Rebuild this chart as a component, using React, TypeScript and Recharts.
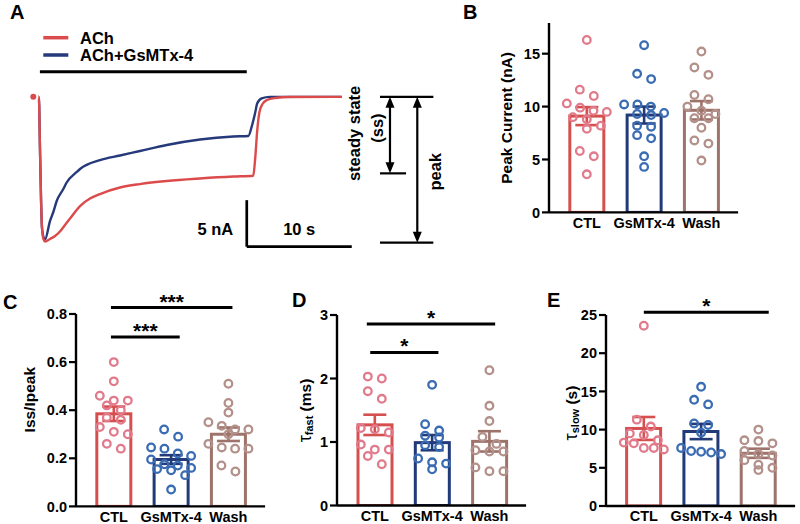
import React from 'react';
import {
  ComposedChart, LineChart, Line, Bar, Scatter, ErrorBar,
  XAxis, YAxis, ReferenceLine,
} from 'recharts';

const FONT = '"Liberation Sans", Arial, Helvetica, sans-serif';

// ---------- shared categories / colours ----------
const groups = ['CTL', 'GsMTx-4', 'Wash'];
const barColors = ['#d64f4f', '#233a78', '#9e736b'];
const dotColors = ['#e17b8c', '#3a6cb4', '#b3918a'];
const traceRed = '#dc4b4b';
const traceBlue = '#26397a';

// ---------- Panel A: current traces (time s, current nA) ----------
const achTime = [-0.03, 0.5, 0.61, 0.71, 0.8, 0.94, 1.09, 1.56, 2.04, 2.51, 2.99, 3.47, 4.42, 5.37, 6.32, 8.23, 10.13, 12.68, 15.85, 19.02, 20.92, 21.09, 21.3, 21.51, 21.8, 22.23, 22.99, 24.42, 29.34];
const achCurrent = [0, 0, -5.7, -11.08, -14.09, -15.28, -15.54, -15.27, -14.95, -14.47, -13.77, -13.07, -11.73, -10.92, -10.44, -9.74, -9.37, -9.04, -8.77, -8.56, -8.47, -6.79, -3.57, -1.63, -0.77, -0.34, -0.13, -0.02, 0];
const gsmTime = [-0.03, 0.5, 0.61, 0.71, 0.8, 0.94, 1.09, 1.56, 1.88, 2.2, 2.83, 3.15, 4.11, 4.42, 6.32, 8.23, 10.13, 12.68, 15.85, 19.02, 20.45, 20.77, 21.09, 21.3, 21.72, 22.51, 29.34];
const gsmCurrent = [0, 0, -5.7, -11.08, -14.09, -15.06, -15.31, -13.34, -12.37, -11.19, -9.9, -9.2, -8.07, -7.75, -6.79, -6.3, -5.82, -5.17, -4.58, -4.26, -4.2, -3.21, -1.77, -0.7, -0.16, 0, 0];
const achOn = 0.6;
const achOff = 20.3;
const ssLevel = -8.22;
const peakLevel = -15.67;

// ---------- Panel B: peak current (nA) ----------
const peakCTL = [16.3, 11.6, 11.0, 10.3, 9.9, 9.6, 9.5, 9.0, 8.8, 8.2, 7.9, 5.8, 5.3, 3.6];
const peakGs = [15.8, 13.1, 12.6, 10.2, 10.2, 10.0, 9.4, 9.3, 9.2, 8.2, 8.1, 7.3, 7.0, 5.3, 4.3];
const peakWash = [15.2, 13.7, 13.0, 11.1, 10.7, 10.0, 9.6, 9.3, 8.9, 8.9, 8.0, 6.8, 6.5, 4.9];
const peakMean = [9.1, 9.2, 9.65];
const peakSem = [0.85, 0.8, 0.87];

// ---------- Panel C: Iss/Ipeak ----------
const ratioCTL = [0.60, 0.52, 0.46, 0.44, 0.44, 0.42, 0.40, 0.37, 0.36, 0.33, 0.31, 0.30, 0.26, 0.24];
const ratioGs = [0.32, 0.29, 0.245, 0.24, 0.22, 0.21, 0.195, 0.175, 0.17, 0.16, 0.155, 0.15, 0.13, 0.07];
const ratioWash = [0.51, 0.43, 0.39, 0.35, 0.335, 0.32, 0.32, 0.30, 0.26, 0.245, 0.24, 0.24, 0.17, 0.145];
const ratioMean = [0.385, 0.195, 0.30];
const ratioSem = [0.03, 0.018, 0.028];

// ---------- Panel D: tau fast (ms) ----------
const fastCTL = [2.03, 2.0, 1.8, 1.68, 1.22, 1.2, 1.15, 0.96, 0.88, 0.88, 0.78, 0.65];
const fastGs = [1.9, 1.28, 1.18, 1.1, 1.07, 0.95, 0.92, 0.74, 0.68, 0.66, 0.57];
const fastWash = [2.13, 1.57, 1.33, 1.08, 0.97, 0.87, 0.85, 0.85, 0.6, 0.54, 0.54];
const fastMean = [1.27, 0.99, 1.01];
const fastSem = [0.16, 0.12, 0.16];

// ---------- Panel E: tau slow (s) ----------
const slowCTL = [23.6, 11.3, 10.4, 9.5, 9.3, 8.6, 8.3, 8.2, 7.6, 7.6, 7.4];
const slowGs = [15.6, 13.9, 13.3, 10.8, 10.6, 9.6, 7.6, 7.2, 7.1, 7.0, 6.8];
const slowWash = [10.0, 8.6, 8.5, 8.2, 7.2, 6.8, 6.6, 6.0, 5.4, 5.0, 4.7];
const slowMean = [10.15, 9.75, 6.9];
const slowSem = [1.5, 1.0, 0.6];

// significance comparisons
const sigC = [
  { from: -0.05, to: 1.15, y: 0.704, label: '***' },
  { from: -0.05, to: 2.07, y: 0.827, label: '***' },
];
const sigD = [
  { from: -0.08, to: 1.11, y: 2.41, label: '*' },
  { from: -0.14, to: 2.1, y: 2.86, label: '*' },
];
const sigE = [{ from: 0, to: 2.18, y: 25.35, label: '*' }];

// ---------- helpers ----------
// Prism-like scatter layout: points grouped in rows, spread symmetrically (pixel offsets)
function swarm(vals: number[], pxY: number): number[] {
  const idx = vals.map((_, i) => i).sort((a, b) => vals[b] - vals[a]);
  const off = new Array(vals.length).fill(0);
  let k = 0;
  while (k < idx.length) {
    const row = [idx[k]];
    let j = k + 1;
    while (j < idx.length && (vals[idx[k]] - vals[idx[j]]) * pxY < 9) {
      row.push(idx[j]);
      j++;
    }
    const n = row.length;
    const sp = n <= 3 ? 14 : 40 / (n - 1);
    row.forEach((id, r) => {
      off[id] = (r - (n - 1) / 2) * sp;
    });
    k = j;
  }
  return off;
}

const tickStyle = { fill: '#000', fontSize: 14.5, fontWeight: 700, fontFamily: FONT };
const axisLineStyle = { stroke: '#000', strokeWidth: 2.4 };
const BAR_W = 34;

type Sig = { from: number; to: number; y: number; label: string };

function BarPanel(p: {
  axisX: number; plotTop: number; plotBottom: number; mt: number;
  yMax: number; yTicks: number[]; fmt: (v: number) => string;
  means: number[]; sems: number[]; points: number[][];
  title: React.ReactNode; titleX: number; titleY: number; sig: Sig[];
}) {
  const ML = 10, YW = 60, PW = 189.1, MR = 10, XH = 26;
  const xDomain: [number, number] = [-0.66, 2.64];
  const plotH = p.plotBottom - p.plotTop;
  const left = p.axisX - ML - YW;
  const top = p.plotTop - p.mt;
  const W = ML + YW + PW + MR;
  const H = p.mt + plotH + XH;
  const pxX = PW / (xDomain[1] - xDomain[0]);
  const pxY = plotH / p.yMax;
  const barData = groups.map((name, i) => ({ name, x: i, mean: p.means[i], sem: p.sems[i] }));
  const scatterData = p.points.map((vals, g) => {
    const off = swarm(vals, pxY);
    return vals.map((v, j) => ({ x: g + off[j] / pxX, y: v }));
  });
  const tx = p.titleX - left;
  const ty = p.titleY - top;
  const renderTitle = () => (
    <text
      x={tx}
      y={ty}
      transform={`rotate(-90 ${tx} ${ty})`}
      textAnchor="middle"
      dominantBaseline="central"
      fontFamily={FONT}
      fontWeight={700}
      fontSize={15.5}
      fill="#000"
    >
      {p.title}
    </text>
  );
  const barShape = (bp: any) => {
    const cx = bp.x + bp.width / 2;
    const g = bp.payload ? bp.payload.x : bp.index;
    return (
      <rect
        x={cx - BAR_W / 2}
        y={bp.y}
        width={BAR_W}
        height={bp.height}
        fill="#fff"
        stroke={barColors[g]}
        strokeWidth={3}
      />
    );
  };
  return (
    <div style={{ position: 'absolute', left, top }}>
      <ComposedChart width={W} height={H} data={barData} margin={{ top: p.mt, right: MR, bottom: 0, left: ML }}>
        <XAxis
          type="number"
          dataKey="x"
          domain={xDomain}
          ticks={[0, 1, 2]}
          interval={0}
          allowDataOverflow
          tickFormatter={(v: number) => groups[Math.round(v)] ?? ''}
          tickLine={false}
          tickSize={0}
          tickMargin={5}
          axisLine={axisLineStyle}
          tick={tickStyle}
          height={XH}
        />
        <YAxis
          type="number"
          domain={[0, p.yMax]}
          ticks={p.yTicks}
          interval={0}
          allowDataOverflow
          tickFormatter={p.fmt}
          width={YW}
          tickSize={7}
          tickMargin={2}
          tickLine={{ stroke: '#000', strokeWidth: 2.2 }}
          axisLine={axisLineStyle}
          tick={tickStyle}
          label={renderTitle}
        />
        <Bar dataKey="mean" fill="#fff" isAnimationActive={false} shape={barShape} />
        {scatterData.map((d, g) => (
          <Scatter
            key={'pts' + g}
            data={d}
            dataKey="y"
            isAnimationActive={false}
            shape={(sp: any) => (
              <circle cx={sp.cx} cy={sp.cy} r={3.8} fill="none" stroke={dotColors[g]} strokeWidth={2.3} />
            )}
          />
        ))}
        {barData.map((d, g) => (
          <Scatter key={'err' + g} data={[d]} dataKey="mean" isAnimationActive={false} shape={() => <g />}>
            <ErrorBar dataKey="sem" direction="y" width={11.5} stroke={barColors[g]} strokeWidth={2.6} isAnimationActive={false} />
          </Scatter>
        ))}
        {p.sig.map((s, i) => (
          <ReferenceLine
            key={'sig' + i}
            segment={[{ x: s.from, y: s.y }, { x: s.to, y: s.y }]}
            stroke="#000"
            strokeWidth={3}
            ifOverflow="visible"
            label={(lp: any) => {
              const vb = lp.viewBox || {};
              return (
                <text
                  x={vb.x + vb.width / 2}
                  y={vb.y + 1}
                  textAnchor="middle"
                  fontFamily={FONT}
                  fontWeight={700}
                  fontSize={21}
                  fill="#000"
                >
                  {s.label}
                </text>
              );
            }}
          />
        ))}
      </ComposedChart>
    </div>
  );
}

const doubleArrow = (sp: any) => {
  const { x1, y1, x2, y2 } = sp;
  const topY = Math.min(y1, y2);
  const botY = Math.max(y1, y2);
  const x = (x1 + x2) / 2;
  const hw = 4.5;
  const hl = 11;
  return (
    <g>
      <line x1={x} y1={topY + hl - 1} x2={x} y2={botY - hl + 1} stroke="#000" strokeWidth={2.2} />
      <path d={`M${x},${topY} L${x - hw},${topY + hl} L${x + hw},${topY + hl} Z`} fill="#000" />
      <path d={`M${x},${botY} L${x - hw},${botY - hl} L${x + hw},${botY - hl} Z`} fill="#000" />
    </g>
  );
};

const aText = { fontFamily: FONT, fontWeight: 700, fontSize: 16.5, fill: '#000' } as const;

function PanelA() {
  const ach = achTime.map((t, i) => ({ t, i: achCurrent[i] }));
  const gsm = gsmTime.map((t, i) => ({ t, i: gsmCurrent[i] }));
  return (
    <div style={{ position: 'absolute', left: 0, top: 0 }}>
      <LineChart width={470} height={270} margin={{ top: 0, right: 0, bottom: 0, left: 0 }}>
        <XAxis type="number" dataKey="t" domain={[-3.2, 41.56]} hide allowDataOverflow />
        <YAxis type="number" domain={[-18.6, 10.4]} hide allowDataOverflow />
        <Line data={gsm} dataKey="i" type="monotone" stroke={traceBlue} strokeWidth={2.4} dot={false} isAnimationActive={false} />
        <Line data={ach} dataKey="i" type="monotone" stroke={traceRed} strokeWidth={2.4} dot={false} isAnimationActive={false} />
        {/* ACh application bar */}
        <ReferenceLine segment={[{ x: achOn, y: 2.7 }, { x: achOff, y: 2.7 }]} stroke="#000" strokeWidth={3} ifOverflow="visible" />
        {/* scale bars: 5 nA, 10 s */}
        <ReferenceLine
          segment={[{ x: 20.3, y: -11.1 }, { x: 20.3, y: -16.1 }]}
          stroke="#000"
          strokeWidth={2.7}
          ifOverflow="visible"
          label={(lp: any) => {
            const vb = lp.viewBox || {};
            return (
              <text x={vb.x - 13.5} y={vb.y + vb.height - 11.8} textAnchor="end" {...aText}>5 nA</text>
            );
          }}
        />
        <ReferenceLine
          segment={[{ x: 20.3, y: -16.1 }, { x: 30.3, y: -16.1 }]}
          stroke="#000"
          strokeWidth={2.7}
          ifOverflow="visible"
          label={(lp: any) => {
            const vb = lp.viewBox || {};
            return (
              <text x={vb.x + vb.width / 2} y={vb.y - 11.8} textAnchor="middle" {...aText}>10 s</text>
            );
          }}
        />
        {/* measurement annotation */}
        <ReferenceLine segment={[{ x: 32.99, y: 0 }, { x: 38.07, y: 0 }]} stroke="#000" strokeWidth={2.2} ifOverflow="visible" />
        <ReferenceLine segment={[{ x: 32.99, y: ssLevel }, { x: 35.47, y: ssLevel }]} stroke="#000" strokeWidth={2.2} ifOverflow="visible" />
        <ReferenceLine segment={[{ x: 32.99, y: peakLevel }, { x: 38.07, y: peakLevel }]} stroke="#000" strokeWidth={2.2} ifOverflow="visible" />
        <ReferenceLine
          segment={[{ x: 33.94, y: 0 }, { x: 33.94, y: ssLevel }]}
          ifOverflow="visible"
          shape={doubleArrow}
          label={(lp: any) => {
            const vb = lp.viewBox || {};
            const cy = vb.y + vb.height / 2;
            const x1 = vb.x - 36;
            const x2 = vb.x - 13.3;
            return (
              <g>
                <text x={x1} y={cy - 1.7} transform={`rotate(-90 ${x1} ${cy - 1.7})`} textAnchor="middle" dominantBaseline="central" {...aText}>steady state</text>
                <text x={x2} y={cy - 7} transform={`rotate(-90 ${x2} ${cy - 7})`} textAnchor="middle" dominantBaseline="central" {...aText}>(ss)</text>
              </g>
            );
          }}
        />
        <ReferenceLine
          segment={[{ x: 36.54, y: 0 }, { x: 36.54, y: peakLevel }]}
          ifOverflow="visible"
          shape={doubleArrow}
          label={(lp: any) => {
            const vb = lp.viewBox || {};
            const cy = vb.y + vb.height / 2 + 2;
            const x1 = vb.x + 17.7;
            return (
              <text x={x1} y={cy} transform={`rotate(-90 ${x1} ${cy})`} textAnchor="middle" dominantBaseline="central" {...aText}>peak</text>
            );
          }}
        />
      </LineChart>
    </div>
  );
}

const panelLetters = [
  { l: 'A', x: 10, y: 19.3 },
  { l: 'B', x: 463, y: 18.5 },
  { l: 'C', x: 3, y: 308.5 },
  { l: 'D', x: 292, y: 306.7 },
  { l: 'E', x: 547, y: 306.7 },
];

const legendItems = [
  { label: 'ACh', color: traceRed },
  { label: 'ACh+GsMTx-4', color: traceBlue },
];

export default function App() {
  const fmtInt = (v: number) => String(v);
  return (
    <div style={{ position: 'absolute', left: 0, top: 0, width: 800, height: 524, background: '#fff', overflow: 'hidden' }}>
      <PanelA />
      <BarPanel
        axisX={549} plotTop={22.6} plotBottom={212} mt={20}
        yMax={17.9} yTicks={[0, 5, 10, 15]} fmt={fmtInt}
        means={peakMean} sems={peakSem} points={[peakCTL, peakGs, peakWash]}
        title="Peak Current (nA)" titleX={506.7} titleY={117.5} sig={[]}
      />
      <BarPanel
        axisX={76} plotTop={314.3} plotBottom={506.7} mt={40}
        yMax={0.8} yTicks={[0, 0.2, 0.4, 0.6, 0.8]} fmt={(v: number) => v.toFixed(1)}
        means={ratioMean} sems={ratioSem} points={[ratioCTL, ratioGs, ratioWash]}
        title="Iss/Ipeak" titleX={30} titleY={400} sig={sigC}
      />
      <BarPanel
        axisX={337} plotTop={314.5} plotBottom={505} mt={40}
        yMax={3} yTicks={[0, 1, 2, 3]} fmt={fmtInt}
        means={fastMean} sems={fastSem} points={[fastCTL, fastGs, fastWash]}
        title={<><tspan fontWeight={400} fontSize={18}>τ</tspan><tspan fontSize={11} dy={4}>fast</tspan><tspan dy={-4}> (ms)</tspan></>}
        titleX={305} titleY={410} sig={sigD}
      />
      <BarPanel
        axisX={606} plotTop={315} plotBottom={506} mt={40}
        yMax={25} yTicks={[0, 5, 10, 15, 20, 25]} fmt={fmtInt}
        means={slowMean} sems={slowSem} points={[slowCTL, slowGs, slowWash]}
        title={<><tspan fontWeight={400} fontSize={18}>τ</tspan><tspan fontSize={11} dy={4}>slow</tspan><tspan dy={-4}> (s)</tspan></>}
        titleX={571} titleY={413} sig={sigE}
      />
      <svg width={800} height={524} style={{ position: 'absolute', left: 0, top: 0, pointerEvents: 'none' }}>
        {panelLetters.map((p) => (
          <text key={p.l} x={p.x} y={p.y} fontFamily={FONT} fontWeight={700} fontSize={20} fill="#000">{p.l}</text>
        ))}
        {legendItems.map((it, i) => (
          <g key={it.label}>
            <line x1={43.3} x2={68.3} y1={37.7 + i * 17.3} y2={37.7 + i * 17.3} stroke={it.color} strokeWidth={3.5} />
            <text x={80} y={43.6 + i * 17.3} fontFamily={FONT} fontWeight={700} fontSize={16.5} fill="#000">{it.label}</text>
          </g>
        ))}
      </svg>
    </div>
  );
}
